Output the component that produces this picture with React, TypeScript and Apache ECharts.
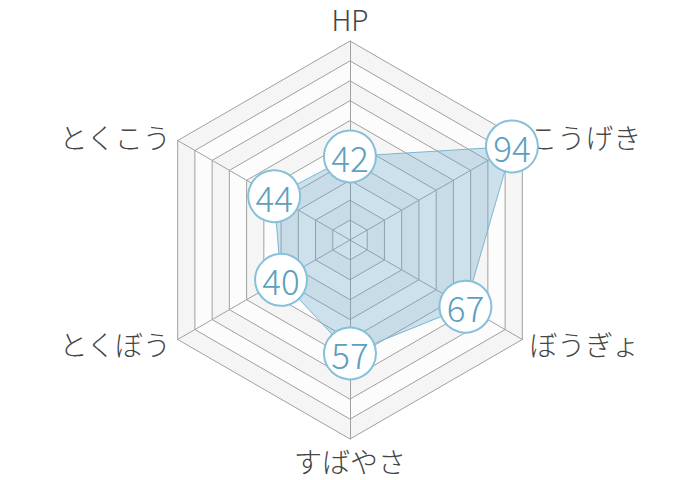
import React, { useEffect, useRef } from 'react';
import * as echarts from 'echarts';

// ECharts radar goes counter-clockwise, so the order is HP then left side
const statNames = ['HP', 'とくこう', 'とくぼう', 'すばやさ', 'ぼうぎょ', 'こうげき'];
const statValues = [42, 44, 40, 57, 67, 94];
const statMax = 100;

const App: React.FC = () => {
  const chartRef = useRef<HTMLDivElement>(null);

  useEffect(() => {
    if (!chartRef.current) return;
    document.body.style.margin = '0';

    const chart = echarts.init(chartRef.current, undefined, { renderer: 'svg' });

    const option = {
      animation: false,
      backgroundColor: '#fff',
      radar: {
        center: ['50%', '50%'],
        radius: 199,
        shape: 'polygon',
        splitNumber: 10,
        startAngle: 90,
        indicator: statNames.map(name => ({ name, max: statMax })),
        axisName: {
          color: '#444',
          fontSize: 28,
          fontWeight: 300,
          fontFamily: '"Noto Sans CJK JP", "Noto Sans", sans-serif'
        },
        nameGap: 8,
        axisLine: { lineStyle: { color: '#a0a0a0', width: 1 } },
        splitLine: { lineStyle: { color: '#a0a0a0', width: 1 } },
        splitArea: {
          show: true,
          areaStyle: { color: ['#fcfcfc', '#f5f5f5'] }
        }
      },
      series: [
        {
          type: 'radar',
          data: [
            {
              value: statValues,
              name: 'stats'
            }
          ],
          symbol: 'circle',
          symbolSize: 52,
          itemStyle: {
            color: '#ffffff',
            borderColor: '#86c0da',
            borderWidth: 2
          },
          lineStyle: { color: '#80bad4', width: 1 },
          areaStyle: { color: 'rgba(100, 165, 200, 0.45)' },
          label: {
            show: true,
            position: 'inside',
            fontSize: 35,
            fontWeight: 300,
            color: '#5d9fbe',
            fontFamily: '"Noto Sans CJK JP", "Noto Sans", sans-serif'
          }
        }
      ]
    };

    chart.setOption(option);

    return () => {
      chart.dispose();
    };
  }, []);

  return <div ref={chartRef} style={{ width: '700px', height: '480px' }} />;
};

export default App;
